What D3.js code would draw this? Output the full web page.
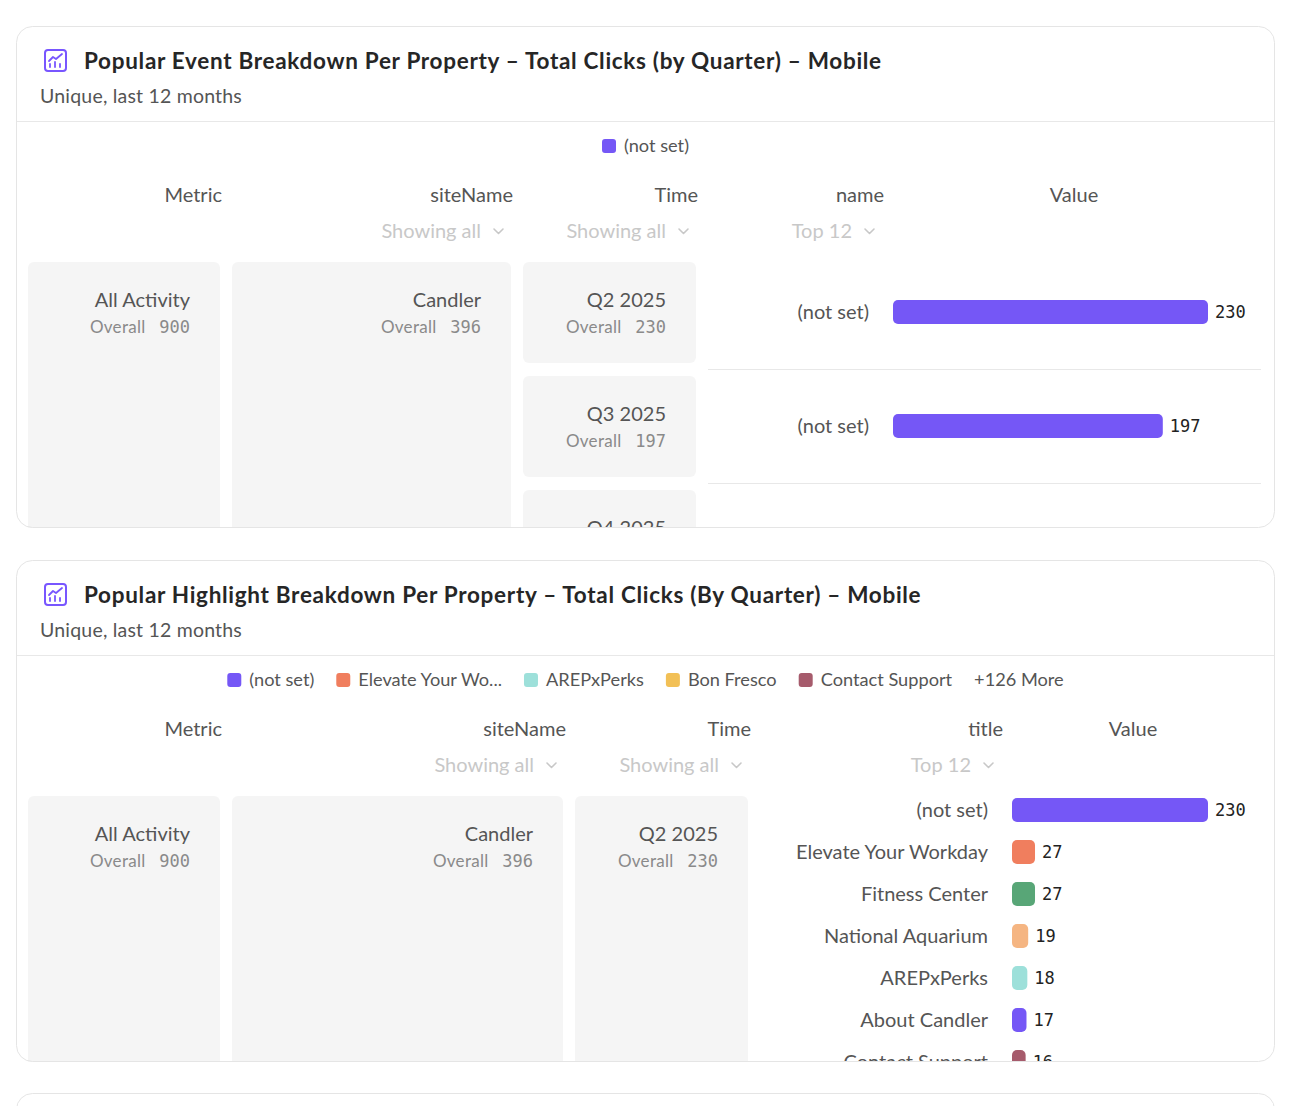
<!DOCTYPE html>
<html>
<head>
<meta charset="utf-8">
<script src="https://cdn.jsdelivr.net/npm/d3@7"></script>
<style>
  html, body { margin: 0; padding: 0; background: #fff; }
  svg { display: block; }
</style>
</head>
<body>
<svg id="chart"></svg>
<script>
// shared breakdown
const metricName = "All Activity";
const metricTotal = 900;
const siteName = "Candler";
const siteTotal = 396;

// card 1: events by quarter
const legend1 = ["(not set)"];
const legend1Colors = ["#7557f6"];
const quarters1 = ["Q2 2025", "Q3 2025", "Q4 2025"];
const quarterTotals1 = [230, 197, null];
const names1 = ["(not set)", "(not set)"];
const nameValues1 = [230, 197];
const nameColors1 = ["#7557f6", "#7557f6"];

// card 2: highlights
const legend2 = ["(not set)", "Elevate Your Wo...", "AREPxPerks", "Bon Fresco", "Contact Support"];
const legend2Colors = ["#7557f6", "#f07e5e", "#9de0da", "#f2c056", "#a65b6c"];
const legend2More = "+126 More";
const quarters2 = ["Q2 2025"];
const quarterTotals2 = [230];
const titles2 = ["(not set)", "Elevate Your Workday", "Fitness Center", "National Aquarium", "AREPxPerks", "About Candler", "Contact Support"];
const titleValues2 = [230, 27, 27, 19, 18, 17, 16];
const titleColors2 = ["#7557f6", "#f07e5e", "#58a677", "#f5b582", "#9de0da", "#7557f6", "#a65b6c"];

const width = 1304, height = 1106;
const sans = "Lato, 'Open Sans', sans-serif";
const mono = "'DejaVu Sans Mono', monospace";

const svg = d3.select("#chart").attr("width", width).attr("height", height);
const defs = svg.append("defs");

const cardX = 16, cardW = 1259, cardH = 502;

function chevron(g, xRight, y) {
  g.append("path")
    .attr("d", `M${xRight - 9},${y - 3} L${xRight - 4.5},${y + 1.5} L${xRight},${y - 3}`)
    .attr("fill", "none")
    .attr("stroke", "#c8c8c8")
    .attr("stroke-width", 1.6)
    .attr("stroke-linecap", "round")
    .attr("stroke-linejoin", "round");
}

function icon(g, x, y) {
  g.append("rect").attr("x", x).attr("y", y).attr("width", 21).attr("height", 21).attr("rx", 3)
    .attr("fill", "none").attr("stroke", "#7856ff").attr("stroke-width", 2);
  g.append("path").attr("d", `M${x + 4},${y + 11} L${x + 8},${y + 7} L${x + 11},${y + 9} L${x + 17},${y + 4}`)
    .attr("fill", "none").attr("stroke", "#7856ff").attr("stroke-width", 1.8)
    .attr("stroke-linecap", "round").attr("stroke-linejoin", "round");
  [[5, 3], [10, 5], [15, 3]].forEach(([dx, h]) => {
    g.append("line").attr("x1", x + dx).attr("x2", x + dx)
      .attr("y1", y + 17).attr("y2", y + 17 - h)
      .attr("stroke", "#7856ff").attr("stroke-width", 1.8).attr("stroke-linecap", "round");
  });
}

function cell(g, x0, x1, y0, y1, title, total, padRight) {
  g.append("rect").attr("x", x0).attr("y", y0).attr("width", x1 - x0).attr("height", y1 - y0)
    .attr("rx", 6).attr("fill", "#f5f5f5");
  g.append("text").attr("x", x1 - padRight).attr("y", y0 + 45).attr("text-anchor", "end")
    .attr("font-family", sans).attr("font-size", 20).attr("fill", "#555").text(title);
  if (total != null) {
    const t = g.append("text").attr("x", x1 - padRight).attr("y", y0 + 71).attr("text-anchor", "end")
      .attr("font-size", 17).attr("fill", "#8a8a8a");
    t.append("tspan").attr("font-family", sans).attr("letter-spacing", 0.3).text("Overall ");
    t.append("tspan").attr("font-family", mono).attr("dx", 9).text(total);
  }
}

function drawCard(cfg) {
  const top = cfg.top;
  const id = "clip" + cfg.key;
  defs.append("clipPath").attr("id", id).append("rect")
    .attr("x", cardX).attr("y", top).attr("width", cardW).attr("height", cardH).attr("rx", 16);

  const g = svg.append("g").attr("clip-path", `url(#${id})`);
  g.append("rect").attr("x", cardX).attr("y", top).attr("width", cardW).attr("height", cardH).attr("fill", "#fff");

  // header
  icon(g, 45, top + 24);
  g.append("text").attr("x", 84).attr("y", top + 43)
    .attr("font-family", sans).attr("font-weight", 700).attr("font-size", 22.5)
    .attr("letter-spacing", 0.7).attr("fill", "#262626")
    .text(cfg.title);
  g.append("text").attr("x", 40).attr("y", top + 77)
    .attr("font-family", sans).attr("font-size", 19.5).attr("letter-spacing", 0.2).attr("fill", "#555")
    .text("Unique, last 12 months");
  g.append("line").attr("x1", cardX).attr("x2", cardX + cardW)
    .attr("y1", top + 95.5).attr("y2", top + 95.5).attr("stroke", "#e8e8e8");

  // legend, centered
  const lg = g.append("g");
  let lx = 0;
  const items = cfg.legend.map((d, i) => ({ label: d, color: cfg.legendColors[i] }));
  if (cfg.legendMore) items.push({ label: cfg.legendMore, color: null });
  items.forEach(it => {
    const ig = lg.append("g").attr("transform", `translate(${lx},0)`);
    let tx = 0;
    if (it.color) {
      ig.append("rect").attr("x", 0).attr("y", -7).attr("width", 14).attr("height", 14).attr("rx", 3)
        .attr("fill", it.color);
      tx = 22;
    }
    const t = ig.append("text").attr("x", tx).attr("y", 0).attr("dy", "0.35em")
      .attr("font-family", sans).attr("font-size", 18.2).attr("fill", "#555").text(it.label);
    lx += tx + t.node().getComputedTextLength() + 22;
  });
  lx -= 22;
  lg.attr("transform", `translate(${cardX + cardW / 2 - lx / 2},${top + 120})`);

  // column headers
  const hy = top + 176;
  cfg.headers.forEach(h => {
    g.append("text").attr("x", h.x).attr("y", hy).attr("text-anchor", h.anchor)
      .attr("font-family", sans).attr("font-size", 20).attr("fill", "#555").text(h.label);
    if (h.filter) {
      const cx = h.x - 10;
      g.append("text").attr("x", cx - 22).attr("y", hy + 36).attr("text-anchor", "end")
        .attr("font-family", sans).attr("font-size", 20).attr("fill", "#c8c8c8").text(h.filter);
      chevron(g, cx, hy + 30);
    }
  });

  // breakdown cells
  const boxTop = top + 236;
  const boxBottom = top + cardH + 20;
  cell(g, 28, 220, boxTop, boxBottom, metricName, metricTotal, 30);
  cell(g, 232, cfg.siteX1, boxTop, boxBottom, siteName, siteTotal, 30);
  cfg.drawTime(g, boxTop, boxBottom);

  // value bars
  const rows = cfg.rowLabels.map((d, i) => ({ label: d, value: cfg.rowValues[i], color: cfg.rowColors[i] }));
  const y = d3.scaleBand().domain(d3.range(rows.length))
    .range([top + 229, top + 229 + cfg.rowStep * rows.length]);
  const x = d3.scaleLinear().domain([0, d3.max(cfg.rowValues)]).range([0, cfg.barMax]);

  if (cfg.rowLines) {
    g.selectAll(null).data(rows).enter().append("line")
      .attr("x1", 708).attr("x2", 1261)
      .attr("y1", (d, i) => y(i) + y.bandwidth() + 0.5)
      .attr("y2", (d, i) => y(i) + y.bandwidth() + 0.5)
      .attr("stroke", "#e8e8e8");
  }

  const row = g.selectAll(null).data(rows).enter().append("g")
    .attr("transform", (d, i) => `translate(0,${y(i) + y.bandwidth() / 2})`);
  row.append("text").attr("x", cfg.labelX).attr("dy", "0.35em").attr("text-anchor", "end")
    .attr("font-family", sans).attr("font-size", 20).attr("fill", "#555").text(d => d.label);
  row.append("rect").attr("x", cfg.barX).attr("y", -12).attr("height", 24).attr("rx", 5)
    .attr("width", d => x(d.value)).attr("fill", d => d.color);
  row.append("text").attr("x", d => cfg.barX + x(d.value) + 7).attr("dy", "0.35em")
    .attr("font-family", mono).attr("font-size", 17).attr("fill", "#222").text(d => d.value);

  // border
  svg.append("rect").attr("x", cardX + 0.5).attr("y", top + 0.5).attr("width", cardW - 1).attr("height", cardH - 1)
    .attr("rx", 16).attr("fill", "none").attr("stroke", "#e5e5e5");
}

drawCard({
  key: 1, top: 26,
  title: "Popular Event Breakdown Per Property – Total Clicks (by Quarter) – Mobile",
  legend: legend1, legendColors: legend1Colors,
  headers: [
    { label: "Metric", x: 222, anchor: "end" },
    { label: "siteName", x: 513, anchor: "end", filter: "Showing all" },
    { label: "Time", x: 698, anchor: "end", filter: "Showing all" },
    { label: "name", x: 884, anchor: "end", filter: "Top 12" },
    { label: "Value", x: 1074, anchor: "middle" }
  ],
  siteX1: 511,
  drawTime: (g, boxTop) => {
    quarters1.forEach((q, i) => {
      const y0 = boxTop + i * 114;
      cell(g, 523, 696, y0, y0 + 101, q, quarterTotals1[i], 30);
    });
  },
  rowLabels: names1, rowValues: nameValues1, rowColors: nameColors1,
  rowStep: 114, rowLines: true, labelX: 869, barX: 893, barMax: 315
});

drawCard({
  key: 2, top: 560,
  title: "Popular Highlight Breakdown Per Property – Total Clicks (By Quarter) – Mobile",
  legend: legend2, legendColors: legend2Colors, legendMore: legend2More,
  headers: [
    { label: "Metric", x: 222, anchor: "end" },
    { label: "siteName", x: 566, anchor: "end", filter: "Showing all" },
    { label: "Time", x: 751, anchor: "end", filter: "Showing all" },
    { label: "title", x: 1003, anchor: "end", filter: "Top 12" },
    { label: "Value", x: 1133, anchor: "middle" }
  ],
  siteX1: 563,
  drawTime: (g, boxTop, boxBottom) => {
    cell(g, 575, 748, boxTop, boxBottom, quarters2[0], quarterTotals2[0], 30);
  },
  rowLabels: titles2, rowValues: titleValues2, rowColors: titleColors2,
  rowStep: 42, rowLines: false, labelX: 988, barX: 1012, barMax: 196
});

// third card, only its top edge is in view
svg.append("rect").attr("x", cardX + 0.5).attr("y", 1093.5).attr("width", cardW - 1).attr("height", 200)
  .attr("rx", 16).attr("fill", "#fff").attr("stroke", "#e5e5e5");
</script>
</body>
</html>
